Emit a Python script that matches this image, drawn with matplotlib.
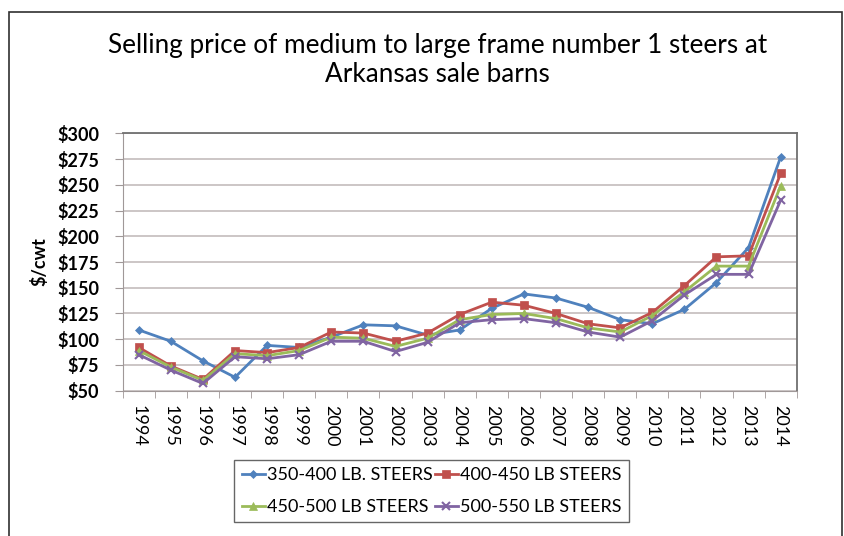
import matplotlib
matplotlib.use("Agg")
import matplotlib.pyplot as plt
from matplotlib.patches import Rectangle
from matplotlib.ticker import FixedLocator

plt.rcParams['font.family'] = ['Lato', 'DejaVu Sans']

years = [str(y) for y in range(1994, 2015)]

steers_350_400 = [109, 98, 79, 63, 94, 92, 102, 114, 113, 104, 109,
                  130, 144, 140, 131, 119, 115, 129, 155, 189, 277]
steers_400_450 = [92, 74, 61, 89, 87, 92, 107, 106, 98, 106, 124,
                  136, 133, 125, 115, 111, 126, 152, 180, 181, 261]
steers_450_500 = [89, 73, 60, 86, 84, 89, 102, 101, 93, 101, 119,
                  124, 125, 120, 111, 107, 123, 146, 171, 171, 249]
steers_500_550 = [85, 70, 57, 83, 81, 85, 98, 98, 88, 97, 116,
                  119, 120, 116, 107, 102, 118, 143, 163, 163, 235]

labels = ["350-400 LB. STEERS", "400-450 LB STEERS",
          "450-500 LB STEERS", "500-550 LB STEERS"]
series = [steers_350_400, steers_400_450, steers_450_500, steers_500_550]
colors = ['#4F81BD', '#C0504D', '#9BBB59', '#8064A2']
markers = ['D', 's', '^', 'x']
msizes = [4.5, 6, 6, 6]

fig = plt.figure(figsize=(8.45, 5.36), dpi=100)
ax = fig.add_axes([122.7 / 845, 1 - 390.7 / 536, 674 / 845, 257.4 / 536])

x = list(range(len(years)))
handles = []
for i in range(len(series)):
    h, = ax.plot(x, series[i], color=colors[i], marker=markers[i],
                 markersize=msizes[i], linewidth=2, label=labels[i],
                 markeredgewidth=1.5 if markers[i] == 'x' else 0.5,
                 markeredgecolor=colors[i])
    handles.append(h)

ax.set_xlim(-0.5, len(years) - 0.5)
ax.set_ylim(50, 300)
ax.set_yticks(range(50, 301, 25))
ax.set_yticklabels(['$' + str(v) for v in range(50, 301, 25)],
                   fontweight='bold', fontsize=13)
ax.set_xticks(x)
ax.set_xticklabels(years, rotation=270, fontsize=13)
ax.xaxis.set_minor_locator(FixedLocator([v - 0.5 for v in range(len(years) + 1)]))
ax.tick_params(axis='x', which='major', length=0, pad=10)
ax.tick_params(axis='x', which='minor', length=5, color='#a09898')
ax.tick_params(axis='y', length=6, color='#a09898', pad=11)
ax.grid(axis='y', color='#c4bcbc', linewidth=1.2)
ax.set_axisbelow(True)
for s in ['top', 'right']:
    ax.spines[s].set_color('#707070')
    ax.spines[s].set_linewidth(1.3)
for s in ['left', 'bottom']:
    ax.spines[s].set_color('#a09898')
ax.set_ylabel('$/cwt', fontweight='bold', fontsize=13, labelpad=6)

fig.text(0.518, 0.888, "Selling price of medium to large frame number 1 steers at\nArkansas sale barns",
         ha='center', va='center', fontsize=18.8, linespacing=1.2)

leg = fig.legend([handles[0], handles[2], handles[1], handles[3]],
                 [labels[0], labels[2], labels[1], labels[3]],
                 ncol=2, loc='center', bbox_to_anchor=(431.5 / 845, 1 - 491 / 536),
                 fontsize=13, fancybox=False, edgecolor='#404040',
                 handlelength=1.3, handletextpad=0.1, columnspacing=0.1,
                 labelspacing=0.9, borderpad=0.4, borderaxespad=0)
leg.get_frame().set_linewidth(1)

fig.patches.append(Rectangle((9 / 845, -0.05), 833 / 845, 1.05 - 12 / 536,
                             transform=fig.transFigure, fill=False,
                             edgecolor='#303030', linewidth=1.2))

fig.savefig('out.png', dpi=100)
